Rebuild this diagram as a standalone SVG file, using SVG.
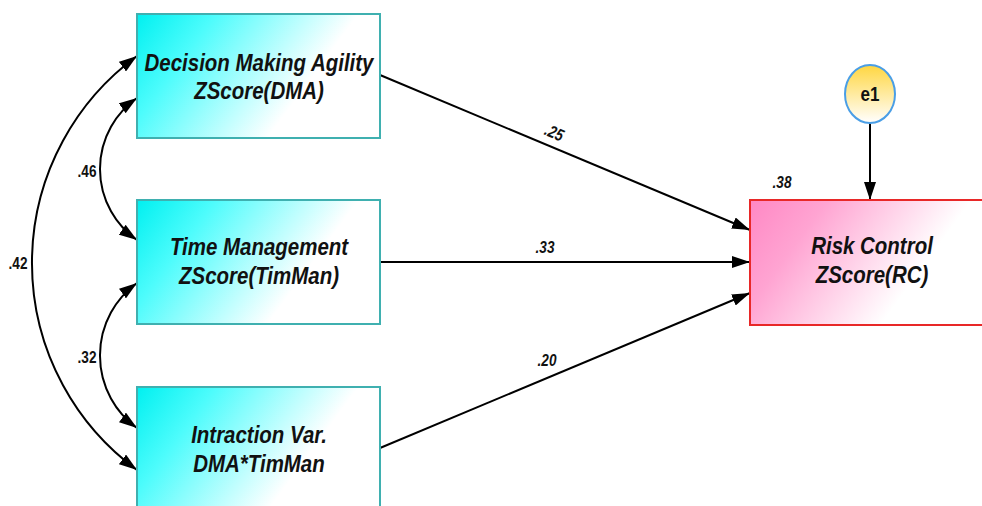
<svg xmlns="http://www.w3.org/2000/svg" width="982" height="506" viewBox="0 0 982 506">
  <defs>
    <linearGradient id="gradCyan" x1="0" y1="0" x2="0.8" y2="0.3">
      <stop offset="0" stop-color="#00f0f0"/>
      <stop offset="0.35" stop-color="#4dfcfc"/>
      <stop offset="1" stop-color="#ffffff"/>
    </linearGradient>
    <linearGradient id="gradPink" x1="0" y1="0" x2="0.8" y2="0.3">
      <stop offset="0" stop-color="#ff88c4"/>
      <stop offset="0.35" stop-color="#ffa4d2"/>
      <stop offset="1" stop-color="#ffffff"/>
    </linearGradient>
    <linearGradient id="gradYellow" x1="0" y1="0" x2="0" y2="1">
      <stop offset="0" stop-color="#ffd640"/>
      <stop offset="1" stop-color="#ffffff"/>
    </linearGradient>
    <marker id="arrow" viewBox="0 0 18 12" refX="18" refY="6" markerWidth="18" markerHeight="12" markerUnits="userSpaceOnUse" orient="auto-start-reverse">
      <path d="M0,0 L18,6 L0,12 Z" fill="#000"/>
    </marker>
  </defs>
  <style>
    .obs { fill: url(#gradCyan); stroke: #3fb0b0; stroke-width: 2; }
    .dep { fill: url(#gradPink); stroke: #e82828; stroke-width: 2; }
    .err { fill: url(#gradYellow); stroke: #4a9ee6; stroke-width: 2; }
    .lbl { font-family: "Liberation Sans", Arial, sans-serif; font-weight: bold; font-style: italic; font-size: 23px; fill: #111; text-anchor: middle; }
    .coef { font-family: "Liberation Sans", Arial, sans-serif; font-weight: bold; font-style: italic; font-size: 17px; fill: #111; text-anchor: middle; }
    .cov { font-family: "Liberation Sans", Arial, sans-serif; font-weight: bold; font-size: 17px; fill: #111; text-anchor: middle; }
    .edge { fill: none; stroke: #000; stroke-width: 2; marker-end: url(#arrow); }
    .twoway { fill: none; stroke: #000; stroke-width: 2; marker-start: url(#arrow); marker-end: url(#arrow); }
  </style>

  <rect width="982" height="506" fill="#ffffff"/>

  <!-- connectors -->
  <g id="connectors">
    <!-- covariances between predictors -->
    <path class="twoway" d="M137,98 A86.6,86.6 0 0 0 137,240"/>
    <path class="twoway" d="M137,283 A89.5,89.5 0 0 0 137,428"/>
    <path class="twoway" d="M137,56 A256.5,256.5 0 0 0 137,470"/>
    <!-- regression paths -->
    <path class="edge" d="M380,75 L750,230"/>
    <path class="edge" d="M380,262 L750,262"/>
    <path class="edge" d="M380,448 L750,293"/>
    <!-- residual -->
    <path class="edge" d="M870,123 L870,200"/>

    <!-- narrow numeric labels -->
    <g transform="translate(87,177) scale(0.8,1)"><text class="cov">.46</text></g>
    <g transform="translate(87,363) scale(0.8,1)"><text class="cov">.32</text></g>
    <g transform="translate(18,269) scale(0.8,1)"><text class="cov">.42</text></g>
    <g transform="translate(552,138) rotate(22.7) scale(0.8,1)"><text class="coef">.25</text></g>
    <g transform="translate(545,253) scale(0.8,1)"><text class="coef">.33</text></g>
    <g transform="translate(547,366) scale(0.8,1)"><text class="coef">.20</text></g>
    <g transform="translate(782,188) scale(0.8,1)"><text class="coef">.38</text></g>
  </g>

  <g id="node-dma">
    <rect class="obs" x="137" y="14" width="243" height="124"/>
    <g transform="translate(259,0) scale(0.89,1)">
      <text class="lbl" x="0" y="71">Decision Making Agility</text>
      <text class="lbl" x="0" y="99">ZScore(DMA)</text>
    </g>
  </g>

  <g id="node-timman">
    <rect class="obs" x="137" y="200" width="243" height="124"/>
    <g transform="translate(259,0) scale(0.89,1)">
      <text class="lbl" x="0" y="255">Time Management</text>
      <text class="lbl" x="0" y="284">ZScore(TimMan)</text>
    </g>
  </g>

  <g id="node-interaction">
    <rect class="obs" x="137" y="387" width="243" height="124"/>
    <g transform="translate(259,0) scale(0.89,1)">
      <text class="lbl" x="0" y="443">Intraction Var.</text>
      <text class="lbl" x="0" y="472">DMA*TimMan</text>
    </g>
  </g>

  <g id="node-rc">
    <rect class="dep" x="750" y="200" width="243" height="125"/>
    <g transform="translate(872,0) scale(0.89,1)">
      <text class="lbl" x="0" y="254">Risk Control</text>
      <text class="lbl" x="0" y="283">ZScore(RC)</text>
    </g>
  </g>

  <g id="node-e1">
    <ellipse class="err" cx="870" cy="94" rx="25" ry="29"/>
    <g transform="translate(870,101) scale(0.85,1)">
      <text x="0" y="0" font-family="Liberation Sans, Arial, sans-serif" font-weight="bold" font-size="20" fill="#111" text-anchor="middle">e1</text>
    </g>
  </g>
</svg>
